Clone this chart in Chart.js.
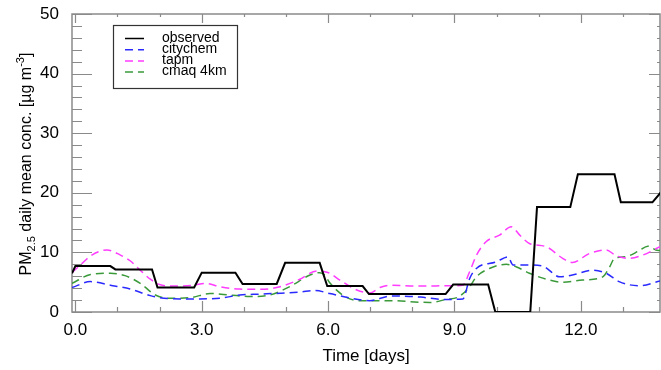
<!DOCTYPE html>
<html>
<head>
<meta charset="utf-8">
<script src="https://cdn.jsdelivr.net/npm/chart.js@4/dist/chart.umd.min.js"></script>
<style>
    html, body { margin: 0; padding: 0; background: #fff; }
    #wrap { width: 661px; height: 370px; }
</style>
</head>
<body>
<div id="wrap"><canvas id="pm-chart" width="661" height="370"></canvas></div>
<script>
'use strict';

// observed daily means, drawn as steps (time in days, value in ug/m3)
const obsTime = [-0.08, 0.0, 0.83, 0.95, 1.82, 1.95, 2.82, 3.0, 3.8, 3.97, 4.78, 4.98, 5.8, 5.98,
    6.82, 6.97, 8.79, 8.97, 9.8, 9.97, 10.8, 10.96, 11.75, 11.93, 12.8, 12.95, 13.7, 13.95];
const obsValue = [6.5, 7.7, 7.7, 7.15, 7.15, 4.1, 4.1, 6.6, 6.6, 4.7, 4.7, 8.25, 8.25, 4.35,
    4.35, 3.0, 3.0, 4.6, 4.6, 0, 0, 17.6, 17.6, 23.1, 23.1, 18.4, 18.4, 20.5];

const citychemTime = [-0.08, 0.36, 0.83, 1.3, 1.78, 2.0, 2.49, 2.96, 3.43, 3.9, 4.38, 4.86, 5.33, 5.7,
    6.04, 6.52, 6.99, 7.5, 8.2, 8.73, 9.2, 9.36, 9.52, 9.99, 10.27, 10.39, 10.78, 11.1, 11.5, 11.8,
    12.28, 12.6, 12.91, 13.39, 13.88];
const citychemValue = [4.1, 5.1, 4.5, 3.85, 2.75, 2.4, 2.2, 2.2, 2.3, 2.85, 3.0, 3.15, 3.35, 3.6,
    3.1, 2.35, 1.9, 2.7, 2.5, 2.1, 2.2, 5.6, 7.3, 8.4, 9.25, 7.9, 7.9, 7.7, 5.9, 6.2,
    7.0, 6.5, 5.1, 4.4, 5.2];

const tapmTime = [-0.08, 0.12, 0.4, 0.75, 1.07, 1.3, 1.54, 1.78, 2.0, 2.33, 2.8, 3.1, 3.43, 3.9, 4.4,
    4.86, 5.33, 5.73, 5.88, 6.04, 6.28, 6.68, 6.99, 7.23, 7.5, 8.17, 8.89, 9.2, 9.36, 9.52, 9.75,
    10.07, 10.35, 10.55, 10.78, 11.18, 11.57, 11.8, 12.2, 12.6, 12.84, 13.15, 13.47, 13.88];
const tapmValue = [6.6, 7.9, 9.6, 10.4, 9.55, 8.6, 7.0, 5.5, 4.6, 4.35, 4.5, 4.8, 4.25, 3.85, 3.8,
    4.25, 5.5, 6.9, 6.8, 6.5, 5.35, 3.7, 3.2, 4.1, 4.5, 4.35, 4.4, 4.5, 6.75, 9.5, 11.8,
    12.9, 14.3, 12.9, 11.5, 10.95, 9.0, 8.3, 9.8, 10.4, 9.45, 9.0, 9.55, 10.95];

const cmaqTime = [-0.08, 0.36, 0.83, 1.18, 1.54, 1.9, 2.25, 2.73, 3.2, 3.67, 4.15, 4.62, 5.1, 5.57,
    5.8, 5.92, 6.04, 6.4, 6.75, 7.46, 8.41, 8.8, 9.1, 9.36, 9.52, 9.83, 10.23, 10.46, 10.78, 11.18,
    11.57, 12.04, 12.52, 12.68, 12.8, 13.07, 13.39, 13.59, 13.78, 13.88];
const cmaqValue = [4.8, 6.3, 6.5, 6.1, 4.8, 2.85, 2.3, 2.4, 3.1, 2.85, 2.6, 2.85, 4.3, 6.2,
    6.6, 6.2, 4.9, 2.6, 1.9, 1.9, 1.6, 2.1, 2.55, 4.25, 5.9, 7.3, 8.0, 7.6, 6.5, 5.5,
    5.0, 5.35, 5.9, 7.5, 9.0, 9.3, 10.3, 11.05, 10.4, 10.3];

const seriesLabels = ['observed', 'citychem', 'tapm', 'cmaq 4km'];
const seriesColors = ['#000000', '#2a2aff', '#ff3cff', '#3a9a3a'];

const xMajorTicks = [0, 3, 6, 9, 12];
const yMajorTicks = [0, 10, 20, 30, 40, 50];

const FONT = '"Liberation Sans", Arial, Helvetica, sans-serif';
const AXIS_COLOR = '#8a8a8a';


/** @returns {Array} points for a linear x scale */
function toPoints(times, values) {
    return times.map((t, i) => ({ x: t, y: values[i] }));
}

/** @description frame with inward ticks, GrADS style */
const framePlugin = {
    id: 'frame',
    beforeDatasetsDraw(chart) {
        const ctx = chart.ctx;
        const a = chart.chartArea;
        const xs = chart.scales.x;
        const ys = chart.scales.y;
        ctx.save();
        ctx.strokeStyle = AXIS_COLOR;
        ctx.lineWidth = 1.5;
        ctx.strokeRect(a.left, a.top, a.right - a.left, a.bottom - a.top);

        ctx.lineWidth = 1.2;
        ctx.beginPath();
        // x ticks: major every 3, minor every day
        for (let d = 0; d <= 13; d++) {
            const px = Math.round(xs.getPixelForValue(d)) + 0.5;
            const major = xMajorTicks.includes(d);
            ctx.moveTo(px, a.bottom);
            ctx.lineTo(px, a.bottom - (major ? 11 : 5));
            ctx.moveTo(px, a.top);
            ctx.lineTo(px, a.top + (major ? 9 : 3));
        }
        // y ticks: major every 10, minor every 2
        for (let v = 0; v <= 50; v += 2) {
            const py = Math.round(ys.getPixelForValue(v)) + 0.5;
            const major = yMajorTicks.includes(v);
            ctx.moveTo(a.left, py);
            ctx.lineTo(a.left + (major ? 20 : 10), py);
            ctx.moveTo(a.right, py);
            ctx.lineTo(a.right - (major ? 11 : 3), py);
        }
        ctx.stroke();
        ctx.restore();
    },
    afterDraw(chart) {
        const ctx = chart.ctx;
        const a = chart.chartArea;
        ctx.save();
        ctx.fillStyle = '#000';

        // x title
        ctx.font = '17px ' + FONT;
        ctx.textAlign = 'center';
        ctx.textBaseline = 'alphabetic';
        ctx.fillText('Time [days]', (a.left + a.right) / 2, 361);

        // y title with sub- and superscript, rotated
        const parts = [
            { t: 'PM', size: 16, dy: 0 },
            { t: '2.5', size: 11, dy: 4 },
            { t: ' daily mean conc. [\u00b5g m', size: 16, dy: 0 },
            { t: '-3', size: 11, dy: -7 },
            { t: ']', size: 16, dy: 0 }
        ];
        let total = 0;
        for (const p of parts) {
            ctx.font = p.size + 'px ' + FONT;
            p.w = ctx.measureText(p.t).width;
            total += p.w;
        }
        ctx.translate(31, 164);
        ctx.rotate(-Math.PI / 2);
        ctx.textAlign = 'left';
        let x = -total / 2;
        for (const p of parts) {
            ctx.font = p.size + 'px ' + FONT;
            ctx.fillText(p.t, x, p.dy);
            x += p.w;
        }
        ctx.restore();

        // legend box
        ctx.save();
        ctx.strokeStyle = '#333';
        ctx.lineWidth = 1.2;
        ctx.strokeRect(113.5, 25.5, 124, 63);
        ctx.font = '14px ' + FONT;
        ctx.textBaseline = 'middle';
        ctx.textAlign = 'left';
        chart.data.datasets.forEach((ds, i) => {
            const y = 38 + i * 11.2;
            ctx.strokeStyle = ds.borderColor;
            ctx.lineWidth = 1.5;
            ctx.setLineDash(ds.borderDash || []);
            ctx.beginPath();
            ctx.moveTo(125, y + 0.5);
            ctx.lineTo(144, y + 0.5);
            ctx.stroke();
            ctx.setLineDash([]);
            ctx.fillStyle = '#000';
            ctx.fillText(ds.label, 162, y);
        });
        ctx.restore();
    }
};


(function () {
    Chart.defaults.font.family = FONT;
    Chart.defaults.color = '#000';

    const ctx = document.getElementById('pm-chart').getContext('2d');

    const lineData = [
        toPoints(obsTime, obsValue),
        toPoints(citychemTime, citychemValue),
        toPoints(tapmTime, tapmValue),
        toPoints(cmaqTime, cmaqValue)
    ];

    const datasets = lineData.map((pts, i) => ({
        label: seriesLabels[i],
        data: pts,
        borderColor: seriesColors[i],
        borderWidth: i === 0 ? 2 : 1.5,
        borderDash: i === 0 ? [] : [8, 5],
        pointRadius: 0,
        tension: 0,
        cubicInterpolationMode: i === 0 ? 'default' : 'monotone',
        fill: false
    }));
    // draw observed on top
    datasets[0].order = -1;

    new Chart(ctx, {
        type: 'line',
        data: { datasets: datasets },
        options: {
            responsive: false,
            animation: false,
            events: [],
            layout: { padding: { top: 14, right: 1, left: 0, bottom: 0 } },
            plugins: {
                legend: { display: false },
                tooltip: { enabled: false }
            },
            scales: {
                x: {
                    type: 'linear',
                    min: -0.08,
                    max: 13.88,
                    grid: { display: false, drawTicks: false },
                    border: { display: false },
                    ticks: {
                        font: { size: 17 },
                        padding: 8,
                        maxRotation: 0,
                        callback: v => v.toFixed(1)
                    },
                    afterBuildTicks: scale => {
                        scale.ticks = xMajorTicks.map(v => ({ value: v }));
                    },
                    afterFit: scale => {
                        scale.height = 58;
                        scale.paddingLeft = 0;
                        scale.paddingRight = 0;
                    }
                },
                y: {
                    min: 0,
                    max: 50,
                    grid: { display: false, drawTicks: false },
                    border: { display: false },
                    ticks: {
                        font: { size: 17 },
                        padding: 13
                    },
                    afterBuildTicks: scale => {
                        scale.ticks = yMajorTicks.map(v => ({ value: v }));
                    },
                    afterFit: scale => {
                        scale.width = 72;
                        scale.paddingTop = 0;
                        scale.paddingBottom = 0;
                    }
                }
            }
        },
        plugins: [framePlugin]
    });
})();
</script>
</body>
</html>
